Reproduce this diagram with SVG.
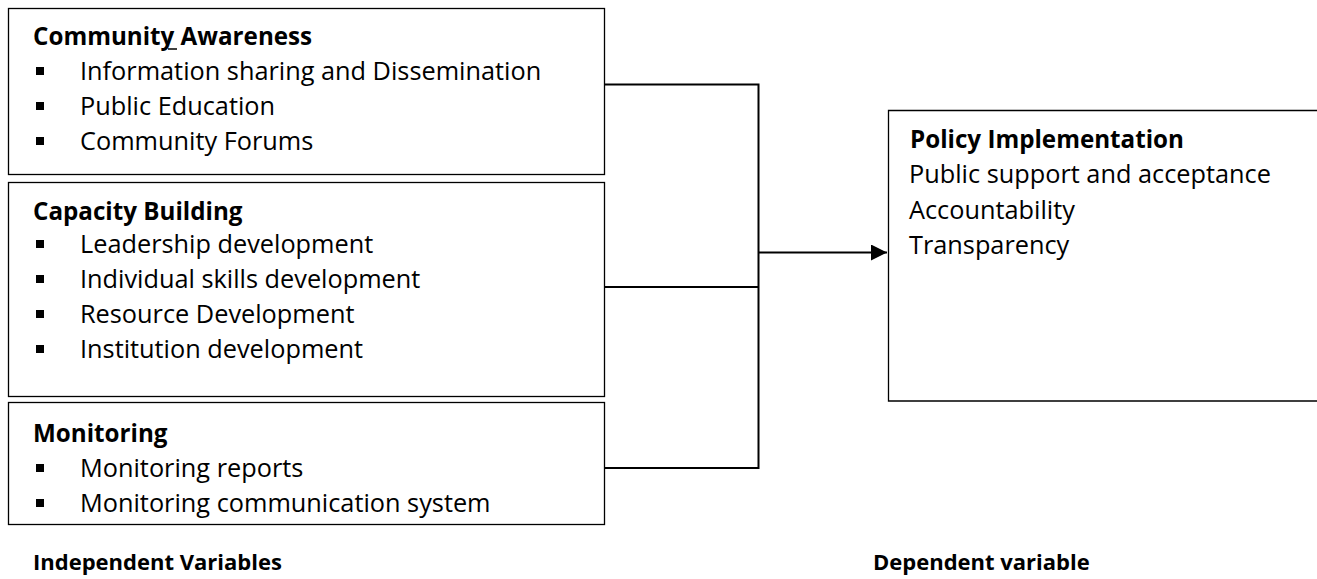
<svg xmlns="http://www.w3.org/2000/svg" width="1317" height="579" viewBox="0 0 1317 579">
<defs>
<style>
.box{fill:#fff;stroke:#000;stroke-width:1.3}
.t{font-family:"Open Sans",sans-serif;font-size:25.3px;fill:#000}
.b{font-weight:bold;font-size:24.2px}
.f{font-family:"Open Sans",sans-serif;font-size:22px;font-weight:bold;fill:#000}
.ln{stroke:#000;stroke-width:2;fill:none}
.bul{fill:#000}
</style>
<marker id="arr" viewBox="0 0 10 10" refX="10" refY="5" markerWidth="16" markerHeight="16" markerUnits="userSpaceOnUse" orient="auto"><path d="M0,0 L10,5 L0,10 Z" fill="#000"/></marker>
<rect id="bl" width="8" height="8"/>
</defs>
<g id="connectors">
<path class="ln" d="M605,84.5 H758.5 V468 H605"/>
<path class="ln" d="M605,287 H758.5"/>
<path class="ln" d="M758.5,252.5 H887" marker-end="url(#arr)"/>
</g>
<g id="community-awareness">
<rect class="box" x="8.5" y="8.5" width="596" height="166"/>
<text class="t b" x="33" y="45">Community Awareness</text>
<line x1="168" y1="49" x2="177" y2="49" stroke="#000" stroke-width="1.5"/>
<use href="#bl" class="bul" x="36" y="67"/><text class="t" x="80" y="80">Information sharing and Dissemination</text>
<use href="#bl" class="bul" x="36" y="102"/><text class="t" x="80" y="115">Public Education</text>
<use href="#bl" class="bul" x="36" y="137"/><text class="t" x="80" y="150">Community Forums</text>
</g>
<g id="capacity-building">
<rect class="box" x="8.5" y="182.5" width="596" height="214"/>
<text class="t b" x="33" y="220">Capacity Building</text>
<use href="#bl" class="bul" x="36" y="240"/><text class="t" x="80" y="253">Leadership development</text>
<use href="#bl" class="bul" x="36" y="275"/><text class="t" x="80" y="288">Individual skills development</text>
<use href="#bl" class="bul" x="36" y="310"/><text class="t" x="80" y="323">Resource Development</text>
<use href="#bl" class="bul" x="36" y="345"/><text class="t" x="80" y="358">Institution development</text>
</g>
<g id="monitoring">
<rect class="box" x="8.5" y="402.5" width="596" height="122"/>
<text class="t b" x="33" y="442">Monitoring</text>
<use href="#bl" class="bul" x="36" y="464"/><text class="t" x="80" y="477">Monitoring reports</text>
<use href="#bl" class="bul" x="36" y="499"/><text class="t" x="80" y="512">Monitoring communication system</text>
</g>
<g id="policy-implementation">
<path class="box" d="M1317,110.5 H888.5 V401 H1317"/>
<text class="t b" x="910" y="148">Policy Implementation</text>
<text class="t" x="909" y="183">Public support and acceptance</text>
<text class="t" x="909" y="219">Accountability</text>
<text class="t" x="909" y="254">Transparency</text>
</g>
<g id="labels">
<text class="f" x="33" y="570">Independent Variables</text>
<text class="f" x="873" y="570">Dependent variable</text>
</g>
</svg>
